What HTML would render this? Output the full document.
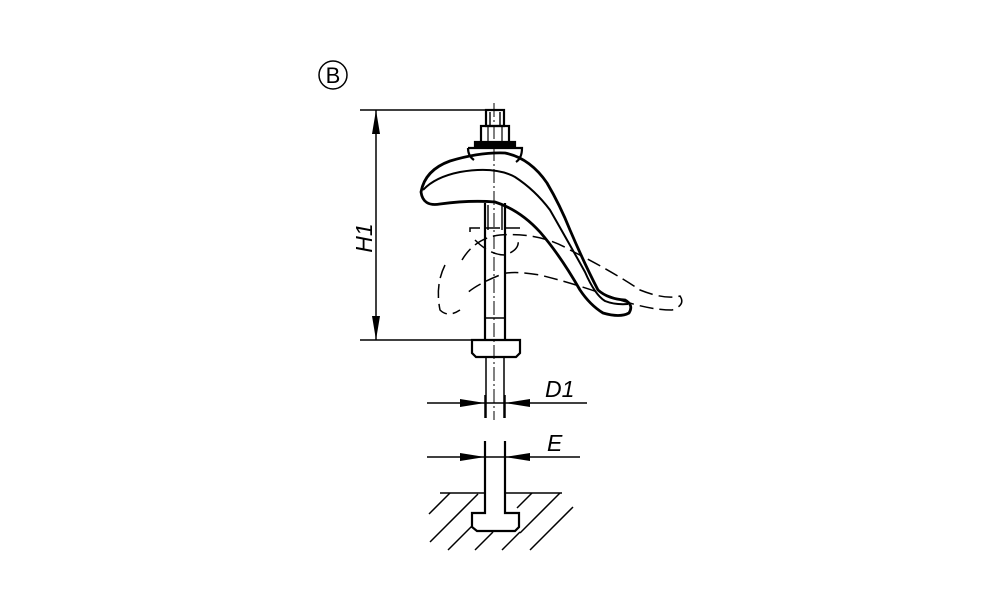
<!DOCTYPE html>
<html><head><style>html,body{margin:0;padding:0;background:#fff;width:1000px;height:611px;overflow:hidden}</style></head>
<body>
<svg width="1000" height="611" viewBox="0 0 1000 611" xmlns="http://www.w3.org/2000/svg" fill="none" stroke="#000" stroke-width="2.2">
<circle cx="333" cy="75" r="14" stroke-width="1.5"/>
<text x="333" y="83" font-family="Liberation Sans, sans-serif" font-size="22" text-anchor="middle" fill="#000" stroke="none">B</text>
<line x1="360" y1="110" x2="490" y2="110" stroke-width="1.5"/>
<line x1="360" y1="340" x2="472" y2="340" stroke-width="1.5"/>
<line x1="376" y1="110" x2="376" y2="340" stroke-width="1.5"/>
<polygon points="376,110 372,134 380,134" fill="#000" stroke="none"/>
<polygon points="376,340 372,316 380,316" fill="#000" stroke="none"/>
<text transform="translate(372,238) rotate(-90)" font-family="Liberation Sans, sans-serif" font-style="italic" font-size="23" text-anchor="middle" fill="#000" stroke="none">H1</text>
<line x1="494" y1="103" x2="494" y2="420" stroke-width="1" stroke-dasharray="14,3,2,3"/>
<rect x="486" y="110" width="18" height="16"/>
<line x1="490" y1="112" x2="490" y2="126" stroke-width="1.4"/><line x1="500" y1="112" x2="500" y2="126" stroke-width="1.4"/>
<rect x="481" y="126" width="28" height="17"/>
<line x1="488" y1="126" x2="488" y2="143" stroke-width="1.2"/><line x1="502" y1="126" x2="502" y2="143" stroke-width="1.2"/>
<rect x="475" y="142" width="40" height="5" fill="#000"/>
<path d="M468,148 L522,148 Q522,158 516,162 M468,148 Q468,156 474,160"/>
<path stroke-width="2.8" d="M421,192 Q425,170 450,161 Q480,152 505,153 Q530,158 547,183 Q560,205 570,230 Q585,265 598,290 Q608,299 625,300 Q634,305 629,313 Q620,318 603,313 Q590,305 580,290 Q560,255 540,232 Q520,210 495,202 Q470,200 440,204 Q423,207 421,192 Z"/>
<path stroke-width="2" d="M423,190 Q435,177 460,172 Q495,166 515,177 Q535,190 550,210 Q570,245 585,272 Q595,295 605,301 Q615,305 628,304"/>
<path d="M485,203 L485,340 M505,203 L505,340"/>
<line x1="485" y1="318" x2="505" y2="318" stroke-width="1.5"/>
<line x1="488" y1="205" x2="488" y2="230" stroke-width="1.4"/><line x1="502" y1="205" x2="502" y2="230" stroke-width="1.4"/>
<path d="M472,340 L520,340 L520,353 L516,357 L476,357 L472,353 Z"/>
<line x1="486" y1="357" x2="486" y2="418" stroke-width="1.5"/><line x1="504" y1="357" x2="504" y2="418" stroke-width="1.5"/>
<g stroke-width="1.5" stroke-dasharray="14,6">
<path d="M470,232 L470,228 L520,228 L520,234"/>
<path d="M462,260 Q475,238 500,235 Q540,232 570,250 Q610,270 640,290 Q665,300 680,296 Q686,305 672,310 Q650,310 620,300 Q580,285 540,275 Q510,270 500,275 Q475,285 465,295"/>
<path d="M445,265 Q435,285 440,310 Q448,318 460,310"/>
<path d="M475,240 Q490,255 505,255 Q520,250 518,240"/>
</g>
<line x1="485" y1="395" x2="485" y2="418" stroke-width="1.5"/><line x1="505" y1="395" x2="505" y2="418" stroke-width="1.5"/>
<line x1="427" y1="403" x2="587" y2="403" stroke-width="1.5"/>
<polygon points="485,403 460,399 460,407" fill="#000" stroke="none"/>
<polygon points="505,403 530,399 530,407" fill="#000" stroke="none"/>
<text x="545" y="397" font-family="Liberation Sans, sans-serif" font-style="italic" font-size="23" fill="#000" stroke="none">D1</text>
<line x1="427" y1="457" x2="580" y2="457" stroke-width="1.5"/>
<polygon points="485,457 460,453 460,461" fill="#000" stroke="none"/>
<polygon points="505,457 530,453 530,461" fill="#000" stroke="none"/>
<text x="547" y="451" font-family="Liberation Sans, sans-serif" font-style="italic" font-size="23" fill="#000" stroke="none">E</text>
<path d="M485,441 L485,513 L472,513 L472,527 L477,531 L515,531 L519,527 L519,513 L505,513 L505,441"/>
<line x1="440" y1="493" x2="485" y2="493" stroke-width="1.5"/><line x1="505" y1="493" x2="562" y2="493" stroke-width="1.5"/>
<g stroke-width="1.5">
<line x1="429" y1="514" x2="450" y2="493"/>
<line x1="430" y1="542" x2="478" y2="494"/>
<line x1="448" y1="550" x2="472" y2="526"/>
<line x1="475" y1="550" x2="493" y2="532"/>
<line x1="502" y1="550" x2="520" y2="532"/>
<line x1="517" y1="508" x2="532" y2="493"/>
<line x1="520" y1="533" x2="560" y2="493"/>
<line x1="530" y1="550" x2="573" y2="507"/>
</g>
</svg>
</body></html>
